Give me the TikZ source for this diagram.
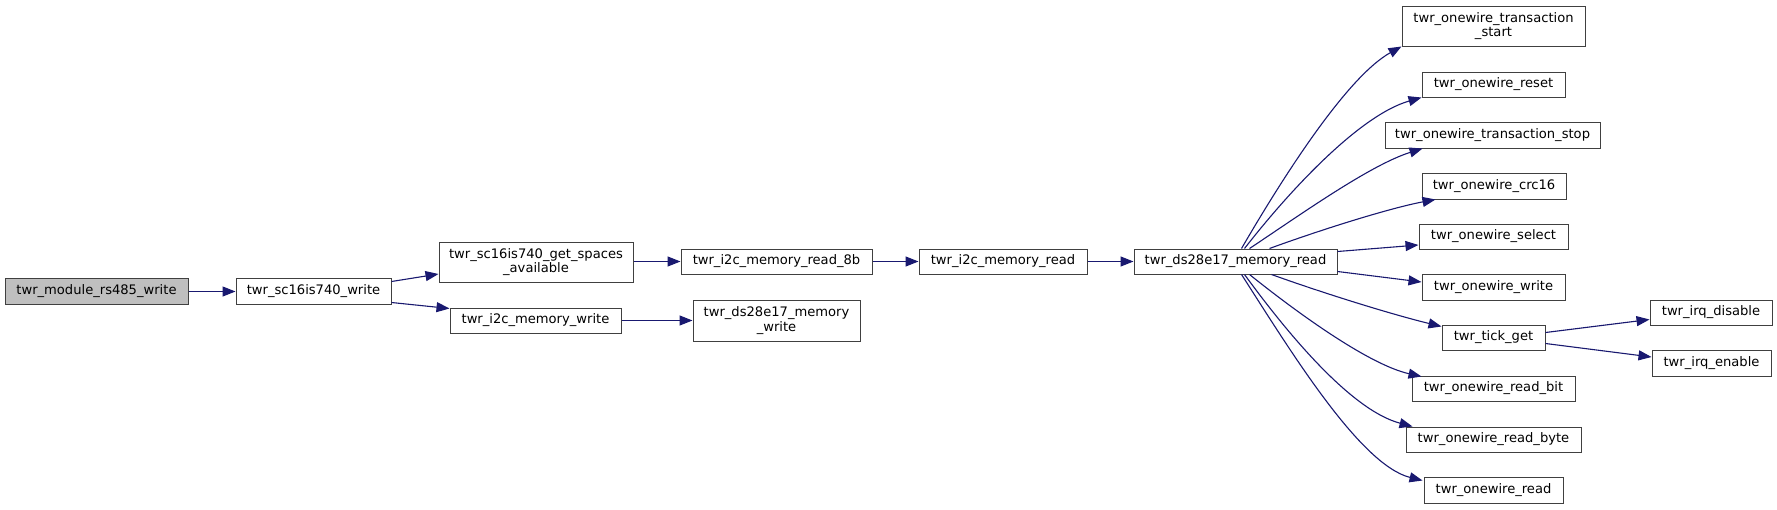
\documentclass[tikz,border=0pt]{standalone}
\usepackage{fontspec}
\setmainfont{DejaVu Sans}
\usetikzlibrary{arrows.meta}
\definecolor{edgecol}{RGB}{25,25,112}
\definecolor{boxcol}{RGB}{64,64,64}
\definecolor{rootfill}{RGB}{191,191,191}
\begin{document}
\begin{tikzpicture}[x=1pt,y=-1pt,
  fn/.style={draw=boxcol,line width=1pt,fill=white,inner sep=0pt,align=center,
    font=\fontsize{13.1}{14.7}\selectfont},
  rootfn/.style={fn,fill=rootfill},
  edge/.style={draw=edgecol,line width=1.1pt,-{Triangle[length=13pt,width=10pt]}}]
\useasboundingbox[fill=white] (0,0) rectangle (1777,509);
% nodes
\node[rootfn,minimum width=183pt,minimum height=26pt] (root) at (96.5,291.5) {twr\_module\_rs485\_write};
\node[fn,minimum width=155pt,minimum height=26pt] (w) at (313.5,291.5) {twr\_sc16is740\_write};
\node[fn,minimum width=194pt,minimum height=40pt] (gsa) at (536,262) {twr\_sc16is740\_get\_spaces\\\_available};
\node[fn,minimum width=191pt,minimum height=25pt] (r8) at (776.5,261.5) {twr\_i2c\_memory\_read\_8b};
\node[fn,minimum width=171pt,minimum height=25pt] (i2cw) at (535.5,320.5) {twr\_i2c\_memory\_write};
\node[fn,minimum width=167pt,minimum height=41pt] (dsw) at (776.5,320.5) {twr\_ds28e17\_memory\\\_write};
\node[fn,minimum width=168pt,minimum height=25pt] (i2cr) at (1003,261.5) {twr\_i2c\_memory\_read};
\node[fn,minimum width=203pt,minimum height=25pt] (dsr) at (1235.5,261.5) {twr\_ds28e17\_memory\_read};
\node[fn,minimum width=183pt,minimum height=40pt] (ts) at (1493.5,26) {twr\_onewire\_transaction\\\_start};
\node[fn,minimum width=143pt,minimum height=25pt] (rs) at (1493.5,84.5) {twr\_onewire\_reset};
\node[fn,minimum width=215pt,minimum height=26pt] (stop) at (1492.5,135) {twr\_onewire\_transaction\_stop};
\node[fn,minimum width=144pt,minimum height=26pt] (crc) at (1494,186) {twr\_onewire\_crc16};
\node[fn,minimum width=149pt,minimum height=25pt] (sel) at (1493.5,236.5) {twr\_onewire\_select};
\node[fn,minimum width=143pt,minimum height=26pt] (wr) at (1493.5,287) {twr\_onewire\_write};
\node[fn,minimum width=103pt,minimum height=25pt] (tick) at (1493.5,337.5) {twr\_tick\_get};
\node[fn,minimum width=122pt,minimum height=25pt] (id) at (1711,312.5) {twr\_irq\_disable};
\node[fn,minimum width=119pt,minimum height=26pt] (ie) at (1711.5,363) {twr\_irq\_enable};
\node[fn,minimum width=163pt,minimum height=25pt] (rb) at (1493.5,388.5) {twr\_onewire\_read\_bit};
\node[fn,minimum width=175pt,minimum height=25pt] (rby) at (1493.5,439.5) {twr\_onewire\_read\_byte};
\node[fn,minimum width=139pt,minimum height=26pt] (rd) at (1493.5,490) {twr\_onewire\_read};
% edges
\draw[edge] (root.east) -- (w.west);
\draw[edge] ([yshift=10pt]w.east) -- ([yshift=-12pt]gsa.west);
\draw[edge] ([yshift=-11pt]w.east) -- ([yshift=-1pt]i2cw.north west);
\draw[edge] (gsa.east |- r8.west) -- (r8.west);
\draw[edge] (i2cw.east) -- (dsw.west);
\draw[edge] (r8.east) -- (i2cr.west);
\draw[edge] (i2cr.east) -- (dsr.west);
\draw[edge] ([xshift=108pt]dsr.north west) .. controls (1290,165) and (1350,75) .. (ts.south west);
\draw[edge] ([xshift=111pt]dsr.north west) .. controls (1290,190) and (1360,115) .. (rs.south west);
\draw[edge] ([xshift=116pt]dsr.north west) .. controls (1300,215) and (1370,165) .. ([xshift=38pt]stop.south west);
\draw[edge] ([xshift=136pt]dsr.north west) .. controls (1320,230) and (1390,208) .. ([xshift=14pt]crc.south west);
\draw[edge] ([yshift=10pt]dsr.east) -- ([yshift=-8.5pt]sel.west);
\draw[edge] ([yshift=-10pt]dsr.east) -- ([yshift=5pt]wr.west);
\draw[edge] ([xshift=138pt]dsr.south west) .. controls (1320,292) and (1390,314) .. ([yshift=-2pt]tick.north west);
\draw[edge] ([xshift=116pt]dsr.south west) .. controls (1300,315) and (1370,365) .. ([xshift=10pt,yshift=-1pt]rb.north west);
\draw[edge] ([xshift=111pt]dsr.south west) .. controls (1285,330) and (1350,410) .. ([xshift=7pt]rby.north west);
\draw[edge] ([xshift=108pt]dsr.south west) .. controls (1290,350) and (1360,465) .. ([xshift=-1pt,yshift=-4pt]rd.north west);
\draw[edge] ([yshift=5pt]tick.east) -- ([yshift=-7pt]id.west);
\draw[edge] ([yshift=-6pt]tick.east) -- ([yshift=6pt]ie.west);
\end{tikzpicture}
\end{document}
